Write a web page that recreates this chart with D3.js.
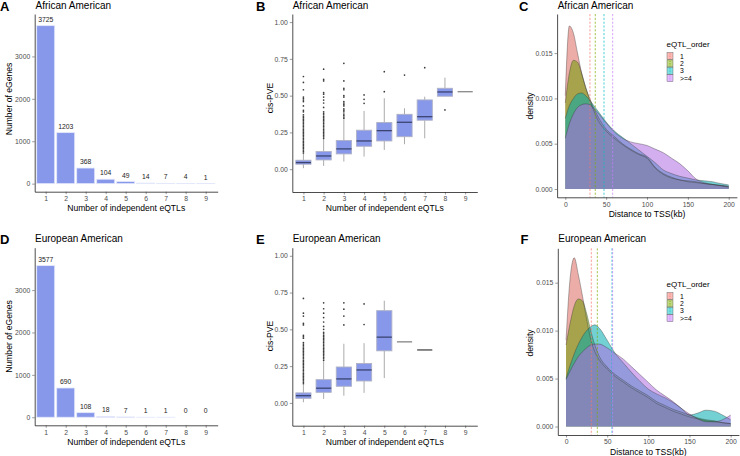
<!DOCTYPE html>
<html><head><meta charset="utf-8">
<script src="https://cdn.jsdelivr.net/npm/d3@7"></script>
<style>
body{margin:0;background:#fff}
svg{display:block}
text{font-family:"Liberation Sans",Arial,Helvetica,sans-serif}
</style>
</head><body><svg id="c" width="740" height="456"></svg>
<script>
// ---------------- DATA ----------------
const eqtlCats = ["1","2","3","4","5","6","7","8","9"];
const aaCounts = [3725,1203,368,104,49,14,7,4,1];
const eaCounts = [3577,690,108,18,7,1,1,0,0];
const countTicks = [0,1000,2000,3000];
const pveTicks = [0,0.25,0.5,0.75,1];
const densTicks = [0,0.005,0.01,0.015];
const distTicks = [0,50,100,150,200];
const orderCats = ["1","2","3",">=4"];
const orderColors = ["#F8766D","#7CAE00","#00BFC4","#C77CFF"];
const orderFills = ["#dc6961","#6e9b00","#00aaaf","#b16ee3"];

// box stats, African American (B)
const aaLo  = [0.007,0.022,0.052,0.086,0.131,0.170,0.210,0.496,0.527];
const aaQ1  = [0.034,0.063,0.104,0.156,0.192,0.221,0.333,0.496,0.527];
const aaMed = [0.045,0.090,0.138,0.192,0.262,0.319,0.357,0.525,0.527];
const aaQ3  = [0.061,0.120,0.195,0.265,0.317,0.373,0.471,0.550,0.527];
const aaHi  = [0.109,0.210,0.335,0.396,0.482,0.414,0.493,0.622,0.527];
const aaOut = [
  [0.11,0.12,0.13,0.14,0.15,0.16,0.17,0.18,0.19,0.20,0.21,0.22,0.23,0.24,0.25,0.26,0.27,0.28,0.29,0.30,0.31,0.32,0.33,0.34,0.35,0.36,0.37,0.39,0.40,0.43,0.46,0.47,0.48,0.49,0.54,0.59,0.63],
  [0.21,0.22,0.23,0.24,0.25,0.26,0.27,0.28,0.29,0.30,0.31,0.32,0.33,0.34,0.35,0.36,0.37,0.38,0.39,0.42,0.45,0.47,0.49,0.51,0.52,0.60,0.61,0.68],
  [0.345,0.355,0.365,0.375,0.39,0.40,0.41,0.43,0.44,0.45,0.46,0.49,0.50,0.54,0.55,0.60,0.72],
  [0.448,0.475,0.505],
  [0.527,0.663],
  [0.640],
  [0.690],
  [0.403],
  []
];

// box stats, European American (E)
const eaLo  = [0.004,0.027,0.049,0.068,0.169,0.415,0.360,null,null];
const eaQ1  = [0.031,0.072,0.113,0.149,0.354,0.415,0.360,null,null];
const eaMed = [0.049,0.100,0.163,0.224,0.447,0.415,0.360,null,null];
const eaQ3  = [0.068,0.158,0.244,0.268,0.627,0.415,0.360,null,null];
const eaHi  = [0.124,0.289,0.402,0.406,0.695,0.415,0.360,null,null];
const eaOut = [
  [0.13,0.14,0.15,0.16,0.17,0.18,0.19,0.20,0.21,0.22,0.23,0.24,0.25,0.26,0.27,0.28,0.29,0.30,0.31,0.32,0.33,0.34,0.35,0.36,0.37,0.38,0.39,0.40,0.41,0.44,0.45,0.46,0.53,0.54,0.59,0.61,0.71],
  [0.29,0.30,0.31,0.32,0.33,0.34,0.35,0.36,0.37,0.38,0.39,0.40,0.41,0.42,0.43,0.44,0.45,0.46,0.47,0.48,0.50,0.52,0.55,0.58,0.61,0.64,0.68],
  [0.53,0.59,0.637,0.68],
  [0.533,0.673],
  [],[],[],[],[]
];

// density curves (distance to TSS, kb)
const distGrid = [0,5,10,15,20,25,30,35,40,50,60,70,80,90,100,110,120,130,140,150,160,170,180,190,200];
const aaDens1 = [0.0103,0.0180,0.0172,0.0150,0.0128,0.0112,0.0098,0.0086,0.0076,0.0064,0.0056,0.0049,0.0043,0.0038,0.0034,0.0023,0.0016,0.0012,0.0010,0.0008,0.0007,0.0006,0.0005,0.00035,0.0002];
const aaDens2 = [0.0095,0.0128,0.0142,0.0140,0.0128,0.0112,0.0100,0.0089,0.0080,0.0066,0.0058,0.0050,0.0044,0.0039,0.0035,0.0024,0.0017,0.0013,0.0010,0.0009,0.0008,0.0006,0.0005,0.0004,0.00025];
const aaDens3 = [0.0078,0.0092,0.0100,0.0105,0.0106,0.0103,0.0098,0.0092,0.0086,0.0074,0.0064,0.0057,0.0050,0.0043,0.0036,0.0029,0.0021,0.0017,0.0014,0.0012,0.0010,0.0009,0.0008,0.0006,0.00045];
const aaDens4 = [0.0056,0.0072,0.0083,0.0090,0.0093,0.0094,0.0093,0.0089,0.0084,0.0073,0.0063,0.0056,0.0052,0.0050,0.0048,0.0044,0.0040,0.0034,0.0028,0.0020,0.0011,0.0007,0.0005,0.0004,0.0003];
const eaDens1 = [0.0090,0.0155,0.0176,0.0158,0.0136,0.0112,0.0091,0.0078,0.0070,0.0060,0.0052,0.0046,0.0040,0.0035,0.0030,0.0024,0.0020,0.0016,0.0013,0.0010,0.0008,0.0006,0.0005,0.0004,0.0003];
const eaDens2 = [0.0085,0.0108,0.0126,0.0133,0.0131,0.0118,0.0100,0.0085,0.0074,0.0062,0.0054,0.0048,0.0042,0.0037,0.0032,0.0026,0.0022,0.0018,0.0015,0.0012,0.0009,0.0007,0.0006,0.0004,0.0003];
const eaDens3 = [0.0050,0.0064,0.0076,0.0086,0.0094,0.0100,0.0104,0.0106,0.0103,0.0090,0.0076,0.0066,0.0056,0.0047,0.0039,0.0034,0.0030,0.0025,0.0019,0.0012,0.0014,0.0017,0.0016,0.0012,0.0007];
const eaDens4 = [0.0049,0.0058,0.0066,0.0073,0.0078,0.0082,0.0085,0.0086,0.0086,0.0082,0.0076,0.0070,0.0062,0.0054,0.0046,0.0038,0.0032,0.0026,0.0019,0.0013,0.0008,0.0005,0.0005,0.0007,0.0012];
const aaVlines = [30.2,36.7,47.4,58.0];
const eaVlines = [30.7,38.0,55.8,56.6];

// ---------------- DRAW ----------------
const svg = d3.select("#c");
const FONT_TICK = 6.8, FONT_AXT = 8.6, FONT_TITLE = 10;
const tickCol = "#4d4d4d";

function styleAxis(g){
  g.select(".domain").attr("stroke","#000").attr("stroke-width",0.7);
  g.selectAll(".tick line").attr("stroke","#333").attr("stroke-width",0.5);
  g.selectAll(".tick text").attr("fill",tickCol).style("font-size",FONT_TICK+"px");
}
function header(letter, lx, title, tx, by){
  svg.append("text").attr("x",lx).attr("y",by+2.5).text(letter)
    .style("font-size","13px").style("font-weight","bold").attr("fill","#000");
  svg.append("text").attr("x",tx).attr("y",by).text(title)
    .style("font-size",FONT_TITLE+"px").attr("fill","#000");
}
function xTitle(txt, cx, y){
  svg.append("text").attr("x",cx).attr("y",y).attr("text-anchor","middle").text(txt)
    .style("font-size",FONT_AXT+"px").attr("fill","#000");
}
function yTitle(txt, x, cy){
  svg.append("text").attr("transform",`translate(${x},${cy}) rotate(-90)`).attr("text-anchor","middle").text(txt)
    .style("font-size",FONT_AXT+"px").attr("fill","#000");
}

function barPanel(p, counts){
  const x = d3.scaleLinear().domain([0.45,9.6]).range([p.x0,p.x1]);
  const y = d3.scaleLinear().domain([-190,4000]).range([p.yBot,p.yTop]);
  const g = svg.append("g");
  g.selectAll("rect").data(counts).join("rect")
    .attr("x",(d,i)=>x(i+1-0.45)).attr("width",x(1.9)-x(1))
    .attr("y",d=>y(d)).attr("height",d=>Math.max(0,y(0)-y(d)))
    .attr("fill","#8798ea").attr("stroke","#e4e8fb").attr("stroke-width",0.8);
  g.selectAll("text.lbl").data(counts).join("text").attr("class","lbl")
    .attr("x",(d,i)=>x(i+1)).attr("y",d=>y(d)-4).attr("text-anchor","middle")
    .text(d=>d).style("font-size","6.8px").attr("fill","#222");
  const ax = svg.append("g").attr("transform",`translate(0,${p.yBot})`)
    .call(d3.axisBottom(x).tickValues(d3.range(1,10)).tickFormat(i=>eqtlCats[i-1]).tickSize(2.5).tickSizeOuter(0).tickPadding(2));
  styleAxis(ax);
  const ay = svg.append("g").attr("transform",`translate(${p.x0},0)`)
    .call(d3.axisLeft(y).tickValues(countTicks).tickFormat(d3.format("d")).tickSize(2.5).tickSizeOuter(0).tickPadding(2));
  styleAxis(ay);
}

function boxPanel(p, lo,q1,med,q3,hi,outs){
  const x = d3.scaleLinear().domain([0.45,9.6]).range([p.x0,p.x1]);
  const y = d3.scaleLinear().domain([-0.155,1.055]).range([p.yBot,p.yTop]);
  const g = svg.append("g");
  const hw = (x(1.375)-x(1));
  eqtlCats.forEach((c,i)=>{
    if(med[i]===null) return;
    const cx = x(i+1);
    if(q1[i]===q3[i]){
      g.append("line").attr("x1",cx-hw).attr("x2",cx+hw).attr("y1",y(med[i])).attr("y2",y(med[i]))
        .attr("stroke", i===6 ? "#555" : "#8e8e8e").attr("stroke-width",1.4);
    } else {
      g.append("line").attr("x1",cx).attr("x2",cx).attr("y1",y(lo[i])).attr("y2",y(q1[i]))
        .attr("stroke","#a2a2a2").attr("stroke-width",0.9);
      g.append("line").attr("x1",cx).attr("x2",cx).attr("y1",y(q3[i])).attr("y2",y(hi[i]))
        .attr("stroke","#a2a2a2").attr("stroke-width",0.9);
      g.append("rect").attr("x",cx-hw).attr("width",2*hw).attr("y",y(q3[i])).attr("height",y(q1[i])-y(q3[i]))
        .attr("fill","#8798ea").attr("stroke","#aeb1c6").attr("stroke-width",0.9);
      g.append("line").attr("x1",cx-hw).attr("x2",cx+hw).attr("y1",y(med[i])).attr("y2",y(med[i]))
        .attr("stroke","#3b4470").attr("stroke-width",1.3);
    }
    g.selectAll(null).data(outs[i]).join("circle").attr("cx",cx).attr("cy",d=>y(d)).attr("r",0.85)
      .attr("fill","#3a3a3a");
  });
  const ax = svg.append("g").attr("transform",`translate(0,${p.yBot})`)
    .call(d3.axisBottom(x).tickValues(d3.range(1,10)).tickFormat(i=>eqtlCats[i-1]).tickSize(2.5).tickSizeOuter(0).tickPadding(2));
  styleAxis(ax);
  const ay = svg.append("g").attr("transform",`translate(${p.x0},0)`)
    .call(d3.axisLeft(y).tickValues(pveTicks).tickFormat(d3.format(".2f")).tickSize(2.5).tickSizeOuter(0).tickPadding(2));
  styleAxis(ay);
}

function densPanel(p, ymax, dens, vlines, leg){
  const x = d3.scaleLinear().domain([-10,210]).range([p.x0,p.x1]);
  const y = d3.scaleLinear().domain([-ymax*0.05,ymax*1.05]).range([p.yBot,p.yTop]);
  const g = svg.append("g");
  const area = d3.area().x((d,i)=>x(distGrid[i])).y0(y(0)).y1(d=>y(d)).curve(d3.curveMonotoneX);
  const line = d3.line().x((d,i)=>x(distGrid[i])).y(d=>y(d)).curve(d3.curveMonotoneX);
  dens.forEach((arr,k)=>{
    g.append("path").attr("d",area(arr)).attr("fill",orderFills[k]).attr("fill-opacity",0.55);
  });
  dens.forEach((arr,k)=>{
    g.append("path").attr("d",line(arr)).attr("fill","none").attr("stroke","#333").attr("stroke-opacity",0.75).attr("stroke-width",0.5);
  });
  vlines.forEach((v,k)=>{
    g.append("line").attr("x1",x(v)).attr("x2",x(v)).attr("y1",p.yTop).attr("y2",p.yBot)
      .attr("stroke",orderColors[k]).attr("stroke-width",0.7).attr("stroke-dasharray","2.2,1.6");
  });
  const ax = svg.append("g").attr("transform",`translate(0,${p.yBot})`)
    .call(d3.axisBottom(x).tickValues(distTicks).tickSize(2.5).tickSizeOuter(0).tickPadding(2));
  styleAxis(ax);
  const ay = svg.append("g").attr("transform",`translate(${p.x0},0)`)
    .call(d3.axisLeft(y).tickValues(densTicks).tickFormat(d3.format(".3f")).tickSize(2.5).tickSizeOuter(0).tickPadding(2));
  styleAxis(ay);
  // legend
  const lg = svg.append("g").attr("transform",`translate(${leg.x},${leg.y})`);
  lg.append("text").attr("x",0).attr("y",0).text("eQTL_order").style("font-size","8px").attr("fill","#000");
  orderCats.forEach((c,k)=>{
    const ky = 5.5 + k*7.4;
    lg.append("rect").attr("x",0.5).attr("y",ky).attr("width",6).attr("height",7)
      .attr("fill",orderColors[k]).attr("fill-opacity",0.5).attr("stroke","#555").attr("stroke-width",0.4);
    lg.append("line").attr("x1",3.5).attr("x2",3.5).attr("y1",ky+0.6).attr("y2",ky+6.4)
      .attr("stroke",orderColors[k]).attr("stroke-width",0.7).attr("stroke-dasharray","1.5,1");
    lg.append("text").attr("x",13.5).attr("y",ky+6).text(c).style("font-size","6.8px").attr("fill","#000");
  });
}

const PA = {x0:34.7, x1:217.7, yTop:14, yBot:191.7};
const PB = {x0:292.3, x1:477.3, yTop:14, yBot:192};
const PC = {x0:557.1, x1:736.9, yTop:14, yBot:197.3};
const PD = {x0:34.7, x1:217.7, yTop:247.7, yBot:425.3};
const PE = {x0:292.3, x1:477.3, yTop:247.7, yBot:425.7};
const PF = {x0:557.8, x1:738.9, yTop:248.3, yBot:435};

barPanel(PA, aaCounts);
barPanel(PD, eaCounts);
boxPanel(PB, aaLo,aaQ1,aaMed,aaQ3,aaHi,aaOut);
boxPanel(PE, eaLo,eaQ1,eaMed,eaQ3,eaHi,eaOut);
densPanel(PC, 0.0184, [aaDens1,aaDens2,aaDens3,aaDens4], aaVlines, {x:666.5,y:47});
densPanel(PF, 0.0177, [eaDens1,eaDens2,eaDens3,eaDens4], eaVlines, {x:666.5,y:287});

header("A",0,"African American",35.5,8.5);
header("B",256,"African American",292.7,8.5);
header("C",519,"African American",557.7,8.5);
header("D",0,"European American",35,241.5);
header("E",256,"European American",292.7,241.5);
header("F",520.5,"European American",558.3,241.5);

xTitle("Number of independent eQTLs",(PA.x0+PA.x1)/2,210.5);
xTitle("Number of independent eQTLs",(PB.x0+PB.x1)/2,210.5);
xTitle("Distance to TSS(kb)",(PC.x0+PC.x1)/2,216.5);
xTitle("Number of independent eQTLs",(PD.x0+PD.x1)/2,444.5);
xTitle("Number of independent eQTLs",(PE.x0+PE.x1)/2,444.5);
xTitle("Distance to TSS(kb)",(PF.x0+PF.x1)/2,454.5);

yTitle("Number of eGenes",11.5,99);
yTitle("cis-PVE",273,98);
yTitle("density",532.5,106);
yTitle("Number of eGenes",11.5,336.5);
yTitle("cis-PVE",273,336);
yTitle("density",532.5,343);
</script></body></html>
